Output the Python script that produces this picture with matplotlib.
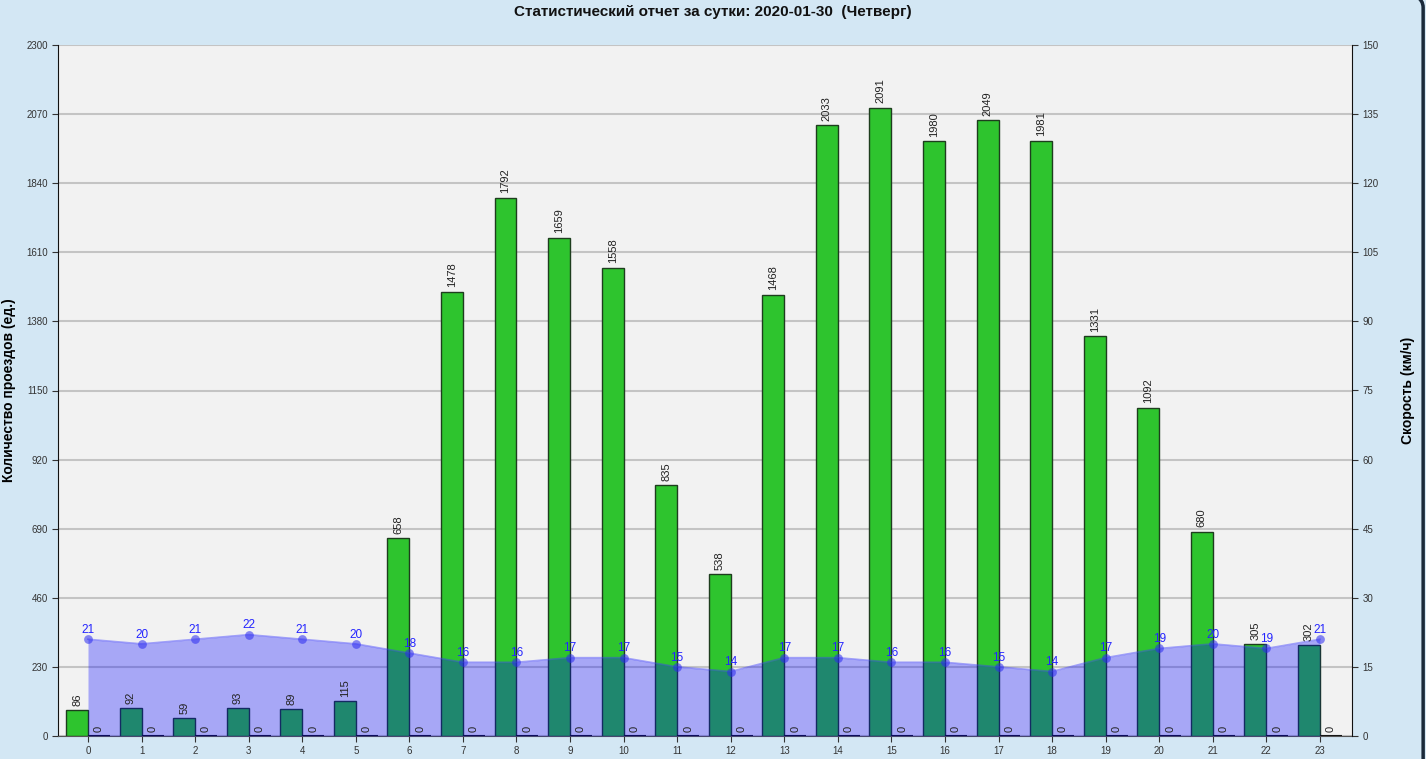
import matplotlib
matplotlib.use("Agg")
import matplotlib.pyplot as plt
from matplotlib.patches import FancyBboxPatch
import numpy as np

plt.rcParams['font.family'] = ['Liberation Sans', 'DejaVu Sans']

hours = list(range(24))
counts = [86, 92, 59, 93, 89, 115, 658, 1478, 1792, 1659, 1558, 835,
          538, 1468, 2033, 2091, 1980, 2049, 1981, 1331, 1092, 680, 305, 302]
zeros = [0] * 24
speed = [21, 20, 21, 22, 21, 20, 18, 16, 16, 17, 17, 15,
         14, 17, 17, 16, 16, 15, 14, 17, 19, 20, 19, 21]
left_ticks = list(range(0, 2301, 230))
right_ticks = list(range(0, 151, 15))

fig = plt.figure(figsize=(14.26, 7.59), dpi=100)
fig.patch.set_facecolor('#d5e8f5')
# rounded panel frame behind the axes
panel = FancyBboxPatch((-0.01, -0.05), 1.008, 1.06, boxstyle="round,pad=0,rounding_size=0.02",
                       transform=fig.transFigure, facecolor='#d3e7f4', edgecolor='#1b2a3a',
                       linewidth=2.5, zorder=-10)
fig.add_artist(panel)

ax = fig.add_axes([58 / 1426, 23 / 759, 1294 / 1426, 691 / 759])
ax.set_facecolor('#f2f2f2')
x = np.array(hours)
w = 0.41

ax.bar(x - w / 2, counts, width=w, color='#2ec42e', edgecolor='#1e3d1e', linewidth=1, zorder=2)
ax.bar(x + w / 2, zeros, width=w, color='#2ec42e', edgecolor='#111111', linewidth=1.5, zorder=2)

ax.set_xlim(-0.56, 23.6)
ax.set_ylim(0, 2300)
ax.set_yticks(left_ticks)
ax.set_xticks(hours)
ax.tick_params(labelsize=7, length=4, colors='#333333')
ax.yaxis.grid(True, color='#c4c4c4', linewidth=1.5, zorder=0)
ax.set_axisbelow(True)
for s in ['top', 'right']:
    ax.spines[s].set_visible(False)
ax.spines['left'].set_color('#111111')
ax.spines['bottom'].set_color('#555555')
ax.set_ylabel('Количество проездов (ед.)', fontsize=10, fontweight='bold', labelpad=7)

ax2 = ax.twinx()
ax2.set_ylim(0, 150)
ax2.set_yticks(right_ticks)
ax2.tick_params(labelsize=7, length=4, colors='#333333')
for s in ['top', 'left', 'bottom']:
    ax2.spines[s].set_visible(False)
ax2.spines['right'].set_color('#111111')
ax2.fill_between(x, 0, speed, color='#0000ff', alpha=0.31, linewidth=0, zorder=3)
ax2.plot(x, speed, color='#3a3aff', alpha=0.45, linewidth=1.2, zorder=4)
ax2.scatter(x, speed, s=40, color='#2a2af0', alpha=0.55, linewidths=0, zorder=5)
for xi, sp in zip(x, speed):
    ax2.text(xi, sp + 0.7, str(sp), ha='center', va='bottom', fontsize=8.5, color='#2424ff', zorder=6)
ax2.set_ylabel('Скорость (км/ч)', fontsize=10, fontweight='bold', labelpad=16)

# count labels drawn on top of the speed area
for xi, c in zip(x, counts):
    ax2.text(xi - w / 2, c + 15, str(c), rotation=90, ha='center', va='bottom', fontsize=8,
             color='#222222', zorder=7, transform=ax.transData)
for xi in x:
    ax2.text(xi + w / 2, 12, '0', rotation=90, ha='center', va='bottom', fontsize=8,
             color='#222222', zorder=7, transform=ax.transData)

fig.text(0.5, 1 - 12 / 759, 'Статистический отчет за сутки: 2020-01-30  (Четверг)', ha='center',
         va='center', fontsize=11, fontweight='bold', color='#111111')

fig.savefig('out.png', dpi=100, facecolor=fig.get_facecolor())
